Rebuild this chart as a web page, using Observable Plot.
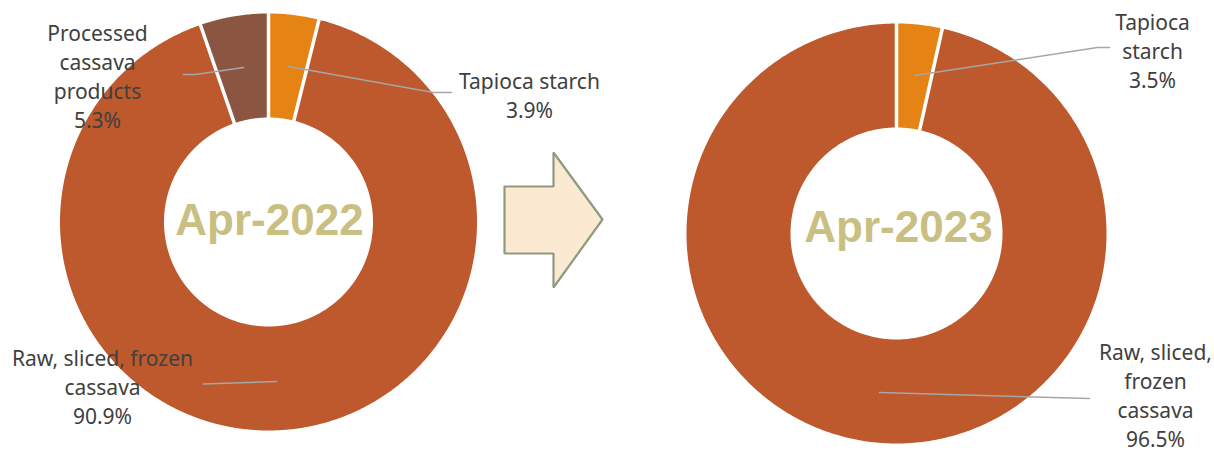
<!DOCTYPE html>
<html>
<head>
<meta charset="utf-8">
<script src="https://cdn.jsdelivr.net/npm/d3@7"></script>
<script src="https://cdn.jsdelivr.net/npm/@observablehq/plot@0.6"></script>
<style>
  html, body { margin: 0; padding: 0; background: #ffffff; }
  #chart { width: 1214px; height: 452px; }
</style>
</head>
<body>
<div id="chart"></div>
<script>
// ---------- data ----------
const periods = ["Apr-2022", "Apr-2023"];
const leftCategories = ["Tapioca starch", "Raw, sliced, frozen cassava", "Processed cassava products"];
const leftValues = [3.9, 90.9, 5.3];
const rightCategories = ["Tapioca starch", "Raw, sliced, frozen cassava"];
const rightValues = [3.5, 96.5];

// ---------- styles ----------
const sliceColors = {
  "Tapioca starch": "#E58315",
  "Raw, sliced, frozen cassava": "#BD592D",
  "Processed cassava products": "#8A5641"
};

// ---------- layout ----------
const W = 1214, H = 452;
const donuts = [
  {period: periods[0], categories: leftCategories, values: leftValues, cx: 268, cy: 221.5, r0: 104.5, r1: 208.5, tx: 269, ty: 220,
   labels: {
     "Processed cassava products": {lines: ["Processed", "cassava", "products"], x: 97, y: 74.5, leader: [[183,74],[195,74],[243,67]]},
     "Tapioca starch": {lines: ["Tapioca starch"], x: 529, y: 93.5, leader: [[451,92],[433,92],[288,66]]},
     "Raw, sliced, frozen cassava": {lines: ["Raw, sliced, frozen", "cassava"], x: 102, y: 385.5, leader: [[203,383.5],[276,381]]}
   }},
  {period: periods[1], categories: rightCategories, values: rightValues, cx: 896, cy: 233, r0: 106, r1: 210, tx: 898, ty: 227,
   labels: {
     "Tapioca starch": {lines: ["Tapioca", "starch"], x: 1152, y: 49, leader: [[1109,47],[1097,47],[914,75]]},
     "Raw, sliced, frozen cassava": {lines: ["Raw, sliced,", "frozen", "cassava"], x: 1155, y: 394, leader: [[1089,398],[879,392]]}
   }}
];
const arrowShape = [[504,186],[553,186],[553,152],[602,219],[553,287],[553,253],[504,253],[504,186]];

// ---------- derived geometry ----------
const slicePts = [], sepLinks = [], leaderPts = [], labelRows = [], centerRows = [];
donuts.forEach((d, di) => {
  const pie = d3.pie().sort(null).value(v => v)(d.values);
  pie.forEach((p, i) => {
    const cat = d.categories[i];
    const id = di + "-" + i;
    const steps = Math.max(4, Math.ceil((p.endAngle - p.startAngle) / (Math.PI / 360)));
    const pts = [];
    for (let k = 0; k <= steps; k++) {
      const a = p.startAngle + (p.endAngle - p.startAngle) * k / steps;
      pts.push([d.cx + d.r1 * Math.sin(a), d.cy - d.r1 * Math.cos(a)]);
    }
    for (let k = steps; k >= 0; k--) {
      const a = p.startAngle + (p.endAngle - p.startAngle) * k / steps;
      pts.push([d.cx + d.r0 * Math.sin(a), d.cy - d.r0 * Math.cos(a)]);
    }
    pts.push(pts[0]);
    pts.forEach(([x, y]) => slicePts.push({id, cat, x, y}));
    const a = p.startAngle;
    sepLinks.push({x1: d.cx + (d.r0 - 2) * Math.sin(a), y1: d.cy - (d.r0 - 2) * Math.cos(a),
                   x2: d.cx + (d.r1 + 2) * Math.sin(a), y2: d.cy - (d.r1 + 2) * Math.cos(a)});
    const lab = d.labels[cat];
    lab.leader.forEach(([x, y]) => leaderPts.push({id, x, y}));
    labelRows.push({x: lab.x, y: lab.y, text: lab.lines.join("\n") + "\n" + d.values[i].toFixed(1) + "%"});
  });
  centerRows.push({x: d.tx, y: d.ty, text: d.period});
});

const chart = Plot.plot({
  width: W,
  height: H,
  margin: 0,
  style: {background: "#ffffff", overflow: "visible"},
  x: {domain: [0, W], range: [0, W], axis: null},
  y: {domain: [0, H], range: [0, H], axis: null},
  color: {type: "identity"},
  marks: [
    Plot.line(slicePts, {x: "x", y: "y", z: "id", fill: d => sliceColors[d.cat], stroke: "none", curve: "linear"}),
    Plot.link(sepLinks, {x1: "x1", y1: "y1", x2: "x2", y2: "y2", stroke: "#ffffff", strokeWidth: 3.5}),
    Plot.line(leaderPts, {x: "x", y: "y", z: "id", stroke: "#A6A6A6", strokeWidth: 1.5, curve: "linear"}),
    Plot.text(labelRows, {x: "x", y: "y", text: "text", fill: "#404040", fontSize: 21,
      fontFamily: "'Noto Sans', 'Open Sans', sans-serif", lineAnchor: "middle", lineHeight: 1.38, textAnchor: "middle"}),
    Plot.text(centerRows, {x: "x", y: "y", text: "text", fill: "#C9BF82", fontSize: 44, fontWeight: "bold",
      fontFamily: "'Liberation Sans', Arial, sans-serif", textAnchor: "middle"}),
    Plot.line(arrowShape, {x: d => d[0], y: d => d[1], fill: "#FBE9D2", stroke: "#8E9A7E", strokeWidth: 2.2, curve: "linear", strokeLinejoin: "miter"})
  ]
});
document.getElementById("chart").appendChild(chart);
</script>
</body>
</html>
